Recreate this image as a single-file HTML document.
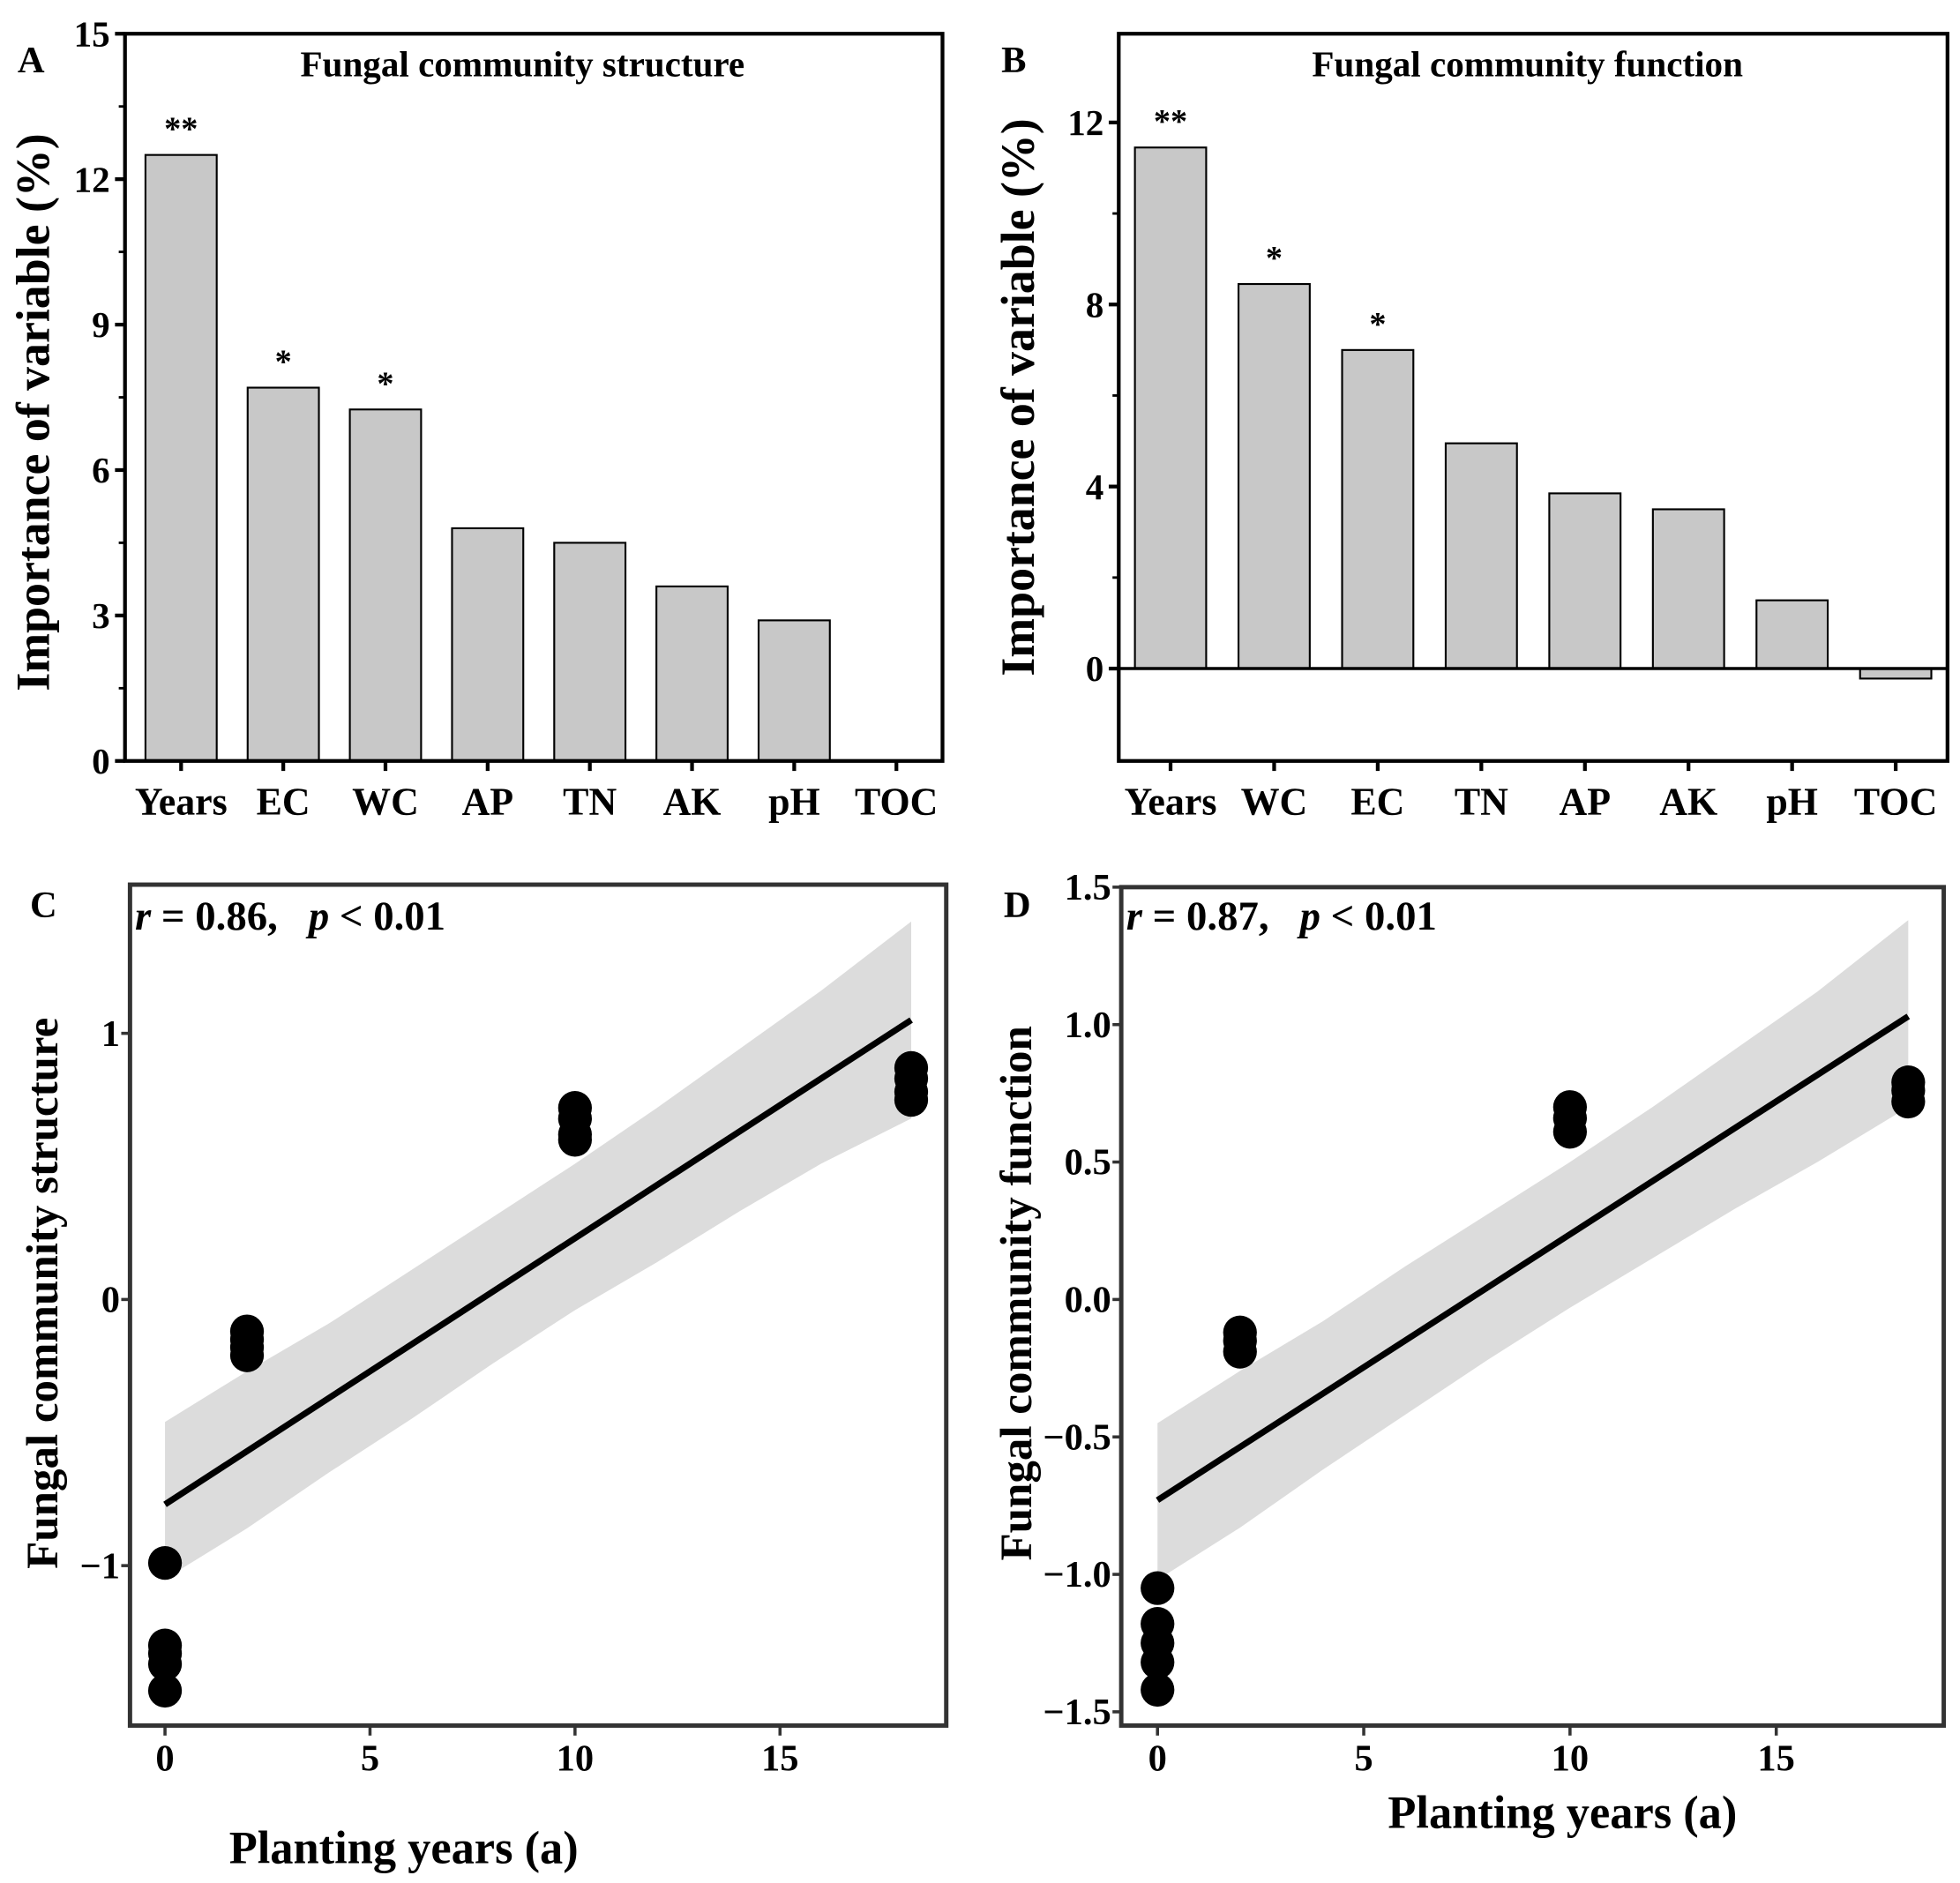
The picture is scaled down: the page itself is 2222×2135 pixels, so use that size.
<!DOCTYPE html>
<html><head><meta charset="utf-8"><style>
html,body{margin:0;padding:0;background:#fff}
svg{display:block}
text{font-family:"Liberation Serif",serif;font-weight:bold;fill:#000}
</style></head><body>
<svg id="fig" width="2222" height="2135" viewBox="0 0 1568 1507" preserveAspectRatio="none" xmlns="http://www.w3.org/2000/svg"></svg>
<script>
// Panel A data
const catsA = ["Years","EC","WC","AP","TN","AK","pH","TOC"];
const valsA = [12.5,7.7,7.25,4.8,4.5,3.6,2.9,0];
const starsA = ["**","*","*","","","","",""];
const ticksA = [0,3,6,9,12,15];
// Panel B data
const catsB = ["Years","WC","EC","TN","AP","AK","pH","TOC"];
const valsB = [11.45,8.45,7.0,4.95,3.85,3.5,1.5,-0.22];
const starsB = ["**","*","*","","","","",""];
const ticksB = [0,4,8,12];
// Panel C data
const xC = [0,0,0,0,0, 2,2,2,2, 10,10,10,10, 18.2,18.2,18.2,18.2];
const yC = [-0.99,-1.3,-1.33,-1.37,-1.47, -0.12,-0.15,-0.18,-0.21, 0.72,0.68,0.62,0.6, 0.87,0.83,0.78,0.75];
const fitC = [-0.77,1.05];
const bandXC = [0,2,4,6,8,10,12,14,16,18.2];
const bandUpC = [-0.46,-0.27,-0.09,0.11,0.31,0.51,0.72,0.94,1.16,1.42];
const bandLoC = [-1.05,-0.86,-0.65,-0.45,-0.24,-0.04,0.14,0.33,0.51,0.68];
const xTicksC = [0,5,10,15];
const yTicksC = [-1,0,1];
// Panel D data
const xD = [0,0,0,0,0, 2,2,2, 10,10,10, 18.2,18.2,18.2];
const yD = [-1.05,-1.18,-1.25,-1.32,-1.42, -0.12,-0.15,-0.19, 0.7,0.66,0.61, 0.79,0.76,0.72];
const fitD = [-0.73,1.03];
const bandXD = [0,2,4,6,8,10,12,14,16,18.2];
const bandUpD = [-0.45,-0.26,-0.08,0.12,0.31,0.50,0.70,0.91,1.12,1.38];
const bandLoD = [-1.02,-0.83,-0.62,-0.42,-0.22,-0.03,0.15,0.33,0.50,0.70];
const xTicksD = [0,5,10,15];
const yTicksD = [-1.5,-1.0,-0.5,0.0,0.5,1.0,1.5];

const NS="http://www.w3.org/2000/svg";
const svg=document.getElementById('fig');
function mk(tag,attrs,parent,txt){const e=document.createElementNS(NS,tag);for(const k in attrs)e.setAttribute(k,attrs[k]);if(txt!==undefined)e.textContent=txt;(parent||svg).appendChild(e);return e;}

function barPanel(o){
  const g=mk('g',{});
  
  
  const ys=v=>o.y0+(v-o.vmin)/(o.vmax-o.vmin)*(o.y1-o.y0);
  const step=(o.x1-o.x0)/o.cats.length;
  o.cats.forEach((c,i)=>{
    const cx=o.x0+step*(i+0.5)+o.shift;
    const v=o.vals[i];
    const top=ys(Math.max(v,0)), bot=ys(Math.min(v,0));
    if(Math.abs(bot-top)>0.5){
      const r=mk('rect',{x:cx-28.5,y:top,width:57,height:bot-top,fill:'#c8c8c8',stroke:'#000','stroke-width':1.5},g);
      
      
    }
    if(o.stars[i]){const s=mk('text',{x:cx,y:top-12,'text-anchor':'middle','font-size':27},g,o.stars[i]);
      
      }
    mk('line',{x1:cx,x2:cx,y1:o.y1,y2:o.y1+8,stroke:'#000','stroke-width':3},g);
    const t=mk('text',{x:cx,y:o.y1+43,'text-anchor':'middle','font-size':31},g,c);
    
    
  });
  o.ticks.forEach(v=>{
    const y=ys(v);
    mk('line',{x1:o.x0-8,x2:o.x0,y1:y,y2:y,stroke:'#000','stroke-width':3},g);
    const t=mk('text',{x:o.x0-12,y:y+10,'text-anchor':'end','font-size':29,'font-weight':'normal'},g,String(v));
    
    
  });
  for(let k=0;k<o.ticks.length-1;k++){const y=ys((o.ticks[k]+o.ticks[k+1])/2);mk('line',{x1:o.x0-5,x2:o.x0,y1:y,y2:y,stroke:'#000','stroke-width':2},g);}
  if(o.zero){const z=mk('line',{x1:o.x0,x2:o.x1,y1:ys(0),y2:ys(0),stroke:'#000','stroke-width':2.5},g);}
  const f=mk('rect',{x:o.x0,y:o.y0,width:o.x1-o.x0,height:o.y1-o.y0,fill:'none',stroke:'#000','stroke-width':3},g);
  
  const tt=mk('text',{x:o.tx,y:61,'text-anchor':'middle','font-size':29},g,o.title);
  
  const pl=mk('text',{x:o.lx,y:58,'font-size':30},g,o.letter);
  
  const yl=mk('text',{x:0,y:0,'text-anchor':'middle','font-size':38,transform:`translate(${o.ylx},${o.yly}) rotate(-90)`},g,'Importance of variable (%)');
  
}

barPanel({name:'panel-a',cats:catsA,vals:valsA,stars:starsA,ticks:ticksA,x0:100,x1:754,y0:27,y1:609,vmin:15,vmax:0,shift:4,zero:false,title:'Fungal community structure',tx:418,letter:'A',lx:14,ylx:39,yly:330});
barPanel({name:'panel-b',cats:catsB,vals:valsB,stars:starsB,ticks:ticksB,x0:895,x1:1558,y0:27,y1:609,vmin:13.95,vmax:-2.03,shift:0,zero:true,title:'Fungal community function',tx:1222,letter:'B',lx:801,ylx:827,yly:318});

function scatterPanel(o){
  const g=mk('g',{});
  
  
  const xs=v=>o.px0+(v-o.xv0)/(o.xv1-o.xv0)*(o.px1-o.px0);
  const ys=v=>o.py0+(v-o.yv0)/(o.yv1-o.yv0)*(o.py1-o.py0);
  let d='';
  o.bx.forEach((x,i)=>{d+=(i?'L':'M')+xs(x)+','+ys(o.bu[i]);});
  for(let i=o.bx.length-1;i>=0;i--)d+='L'+xs(o.bx[i])+','+ys(o.bl[i]);
  const b=mk('path',{d:d+'Z',fill:'#dcdcdc'},g);
  
  o.xs.forEach((x,i)=>{const c=mk('circle',{cx:xs(x),cy:ys(o.ys[i]),r:13.5,fill:'#000'},g);
    });
  const xe=o.bx[o.bx.length-1];
  const l=mk('line',{x1:xs(0),y1:ys(o.fit[0]),x2:xs(xe),y2:ys(o.fit[1]),stroke:'#000','stroke-width':5},g);
  
  const f=mk('rect',{x:o.fx0,y:o.fy0,width:o.fx1-o.fx0,height:o.fy1-o.fy0,fill:'none',stroke:'#333','stroke-width':3.5},g);
  
  o.xt.forEach(v=>{const x=xs(v);mk('line',{x1:x,x2:x,y1:o.fy1,y2:o.fy1+8,stroke:'#333','stroke-width':2.5},g);
    const t=mk('text',{x:x,y:o.fy1+36,'text-anchor':'middle','font-size':30},g,String(v));
    });
  o.yt.forEach(v=>{const y=ys(v);mk('line',{x1:o.fx0-7,x2:o.fx0,y1:y,y2:y,stroke:'#333','stroke-width':2.5},g);
    const s=o.dec?v.toFixed(1).replace('-','\u2212'):String(v).replace('-','\u2212');
    const t=mk('text',{x:o.fx0-8,y:y+10,'text-anchor':'end','font-size':30},g,s);
    });
  const an=mk('text',{x:o.fx0+4,y:744,'font-size':33},g);
  
  mk('tspan',{'font-style':'italic'},an,'r');
  mk('tspan',{},an,' = '+o.r+',\u00a0\u00a0\u00a0');
  mk('tspan',{'font-style':'italic'},an,'p');
  mk('tspan',{},an,' < 0.01');
  const pl=mk('text',{x:o.lx,y:734,'font-size':30},g,o.letter);
  
  const xl=mk('text',{x:o.xlx,y:o.xly,'text-anchor':'middle','font-size':37},g,'Planting years (a)');
  
  const yl=mk('text',{x:0,y:0,'text-anchor':'middle','font-size':36,transform:`translate(${o.ylx},1035) rotate(-90)`},g,o.ylab);
  
}

scatterPanel({name:'panel-c',xs:xC,ys:yC,fit:fitC,bx:bandXC,bu:bandUpC,bl:bandLoC,xt:xTicksC,yt:yTicksC,
  px0:132,px1:624,xv0:0,xv1:15,py0:1040,py1:827,yv0:0,yv1:1,fx0:104,fx1:757,fy0:708,fy1:1381,
  dec:false,r:'0.86',letter:'C',lx:24,xlx:323,xly:1491,ylx:46,ylab:'Fungal community structure'});
scatterPanel({name:'panel-d',xs:xD,ys:yD,fit:fitD,bx:bandXD,bu:bandUpD,bl:bandLoD,xt:xTicksD,yt:yTicksD,
  px0:926,px1:1421,xv0:0,xv1:15,py0:1040,py1:820,yv0:0,yv1:1,fx0:897,fx1:1555,fy0:710,fy1:1381,
  dec:true,r:'0.87',letter:'D',lx:803,xlx:1250,xly:1463,ylx:825,ylab:'Fungal community function'});
</script>
</body></html>
